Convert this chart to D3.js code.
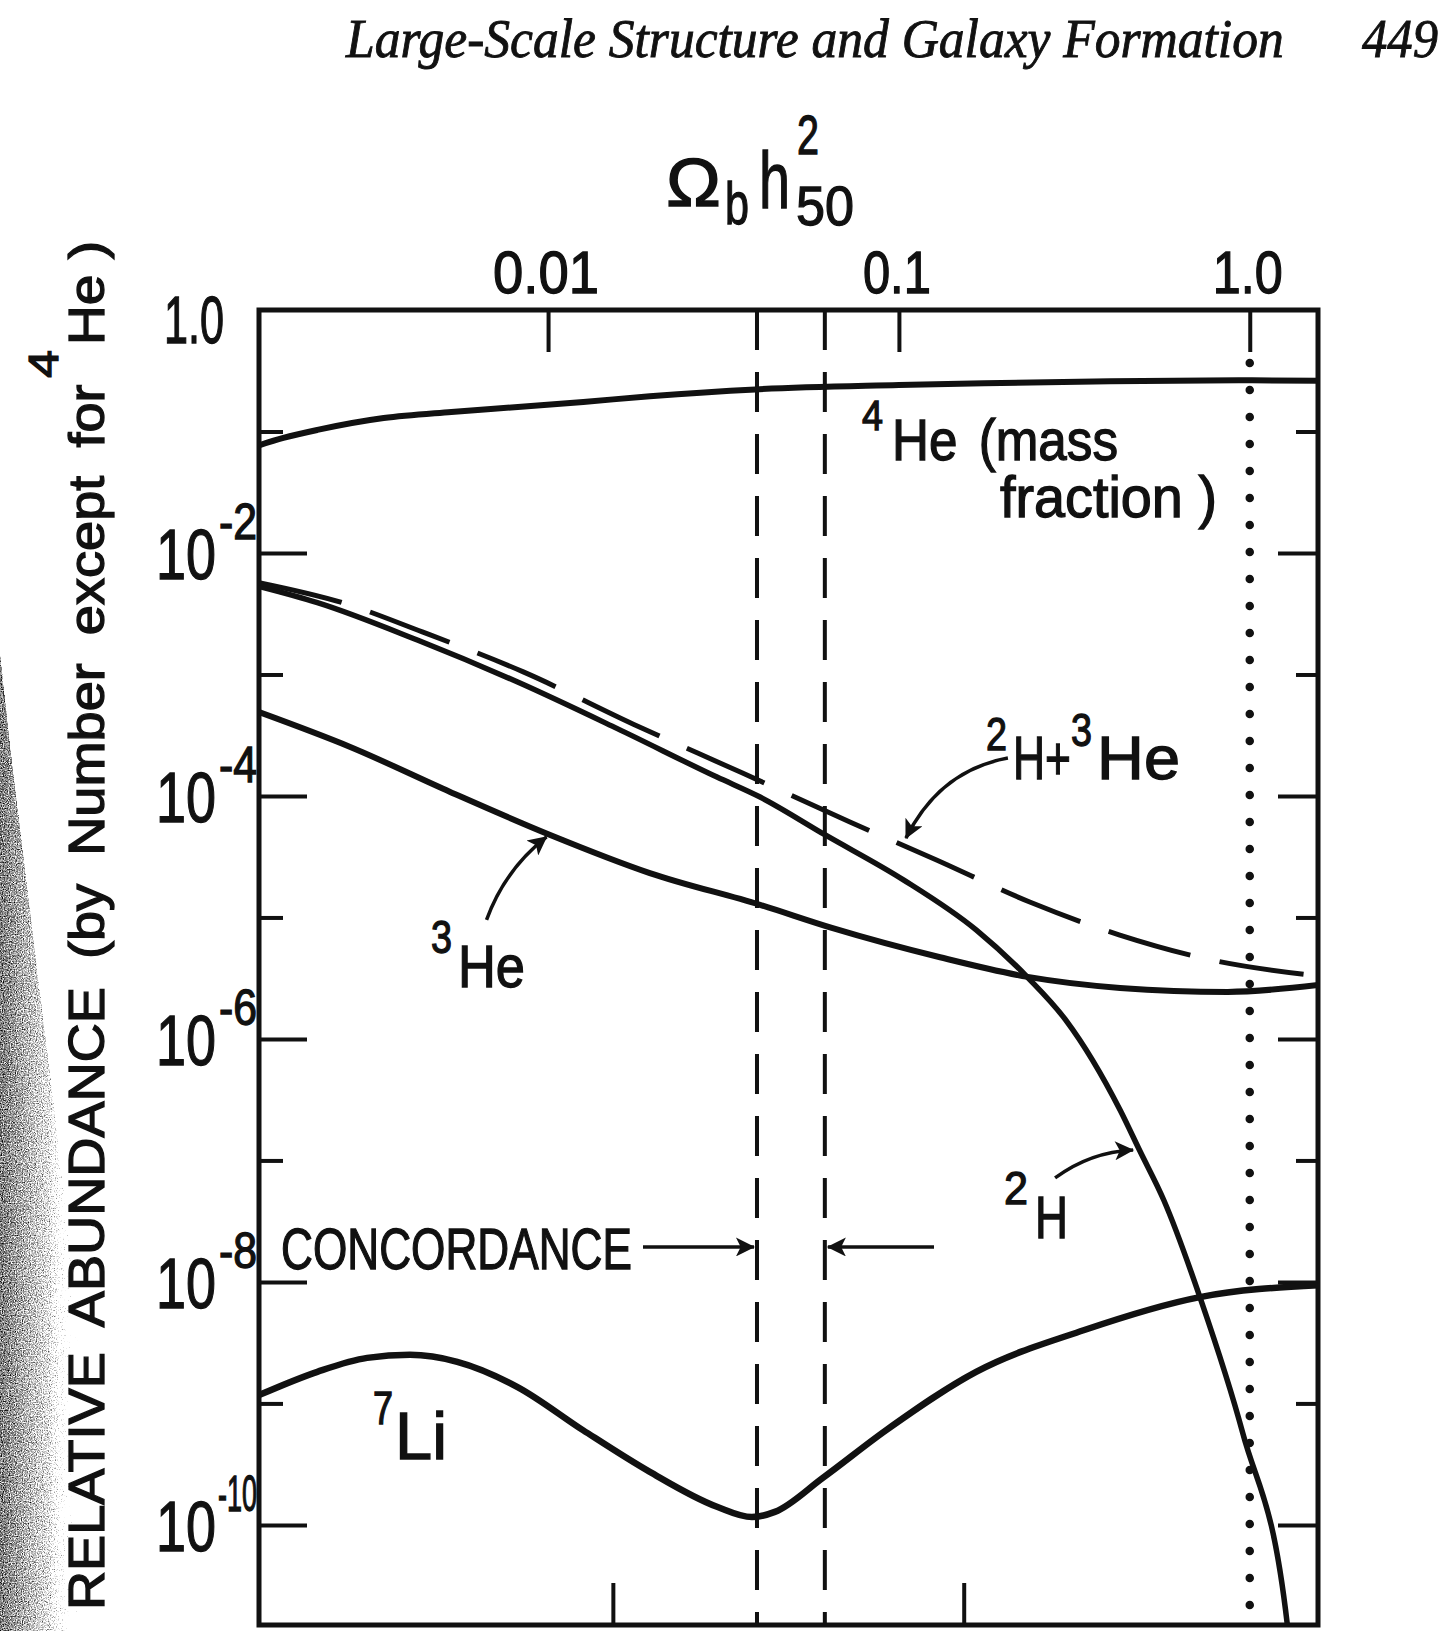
<!DOCTYPE html>
<html>
<head>
<meta charset="utf-8">
<script src="https://cdn.jsdelivr.net/npm/d3@7"></script>
<style>
  html, body { margin: 0; background: #fff; }
  svg { display: block; }
</style>
</head>
<body>
<script>
// ---- Big-bang nucleosynthesis yields vs. baryon density  (x = Omega_b h_50^2) ----
const he4 = [[0.0015,0.077],[0.00176,0.0885],[0.0022,0.103],[0.0034,0.129],[0.0053,0.145],[0.0082,0.159],
             [0.0126,0.175],[0.0195,0.195],[0.039,0.222],[0.10,0.241],[0.175,0.25],[0.40,0.259],[1.0,0.264],[1.565,0.262]];
const deut = [[0.0015,5.3e-3],[0.0022,3.9e-3],[0.00424,1.92e-3],[0.00816,8.7e-4],[0.0157,3.6e-4],[0.0303,1.43e-4],
              [0.0402,9.8e-5],[0.0615,4.8e-5],[0.103,2.04e-5],[0.166,7.9e-6],[0.233,3.2e-6],[0.299,1.43e-6],
              [0.427,2.6e-7],[0.486,1.2e-7],[0.569,4.7e-8],[0.721,7.5e-9],[0.955,5.7e-10],[1.28,1.5e-11],[1.35,2e-12]];
const deutPlusHe3 = [[0.0015,5.7e-3],[0.00259,3.9e-3],[0.00438,2.24e-3],[0.0085,1.05e-3],[0.0175,3.9e-4],[0.0357,1.55e-4],
                     [0.0725,6.1e-5],[0.128,2.97e-5],[0.236,1.34e-5],[0.424,7.2e-6],[0.769,4.5e-6],[1.565,3.3e-6]];
const he3 = [[0.0015,4.9e-4],[0.00273,2.53e-4],[0.00526,1.08e-4],[0.0101,4.8e-5],[0.0195,2.32e-5],[0.0402,1.27e-5],
             [0.0644,8.2e-6],[0.131,4.7e-6],[0.233,3.24e-6],[0.427,2.63e-6],[0.865,2.44e-6],[1.565,2.78e-6]];
const li7 = [[0.0015,1.17e-9],[0.0022,1.82e-9],[0.00305,2.37e-9],[0.00404,2.51e-9],[0.00551,2.2e-9],[0.00816,1.37e-9],
             [0.0126,6.0e-10],[0.0195,2.73e-10],[0.0303,1.41e-10],[0.0381,1.16e-10],[0.0443,1.28e-10],[0.0607,2.44e-10],
             [0.0918,6.0e-10],[0.166,1.82e-9],[0.336,4.0e-9],[0.721,7.5e-9],[1.565,9.4e-9]];

const concordance = [0.0394, 0.0615];      // allowed range (dashed verticals)
const closure = 1.0;                        // Omega_b h_50^2 = 1 (dotted vertical)
const topTicks = [0.01, 0.1, 1.0];
const topTickLabels = ["0.01", "0.1", "1.0"];
const bottomTicks = [0.0153, 0.153];
const yMajor = [1e-2, 1e-4, 1e-6, 1e-8, 1e-10];
const yMajorExp = [2, 4, 6, 8, 10];
const yMinor = [1e-1, 1e-3, 1e-5, 1e-7, 1e-9];

// ---- layout ----
const W = 1455, H = 1631;
const ink = "#111";
const LETTER = "'Liberation Sans', Arial, sans-serif";
const SERIF = "'Liberation Serif', 'DejaVu Serif', serif";
const plot = { left: 259, right: 1318, top: 310, bottom: 1625 };

const x = d3.scaleLog().domain([0.0015, 1.565]).range([plot.left, plot.right]);
const y = d3.scaleLog().domain([1.5e-11, 1]).range([plot.bottom, plot.top]);

const svg = d3.select("body").append("svg").attr("width", W).attr("height", H);
const defs = svg.append("defs");

defs.append("clipPath").attr("id", "plotClip")
  .append("rect").attr("x", plot.left).attr("y", plot.top)
  .attr("width", plot.right - plot.left).attr("height", plot.bottom - plot.top);

defs.append("marker").attr("id", "head")
  .attr("viewBox", "0 0 10 10").attr("refX", 9.5).attr("refY", 5)
  .attr("markerWidth", 30).attr("markerHeight", 19).attr("markerUnits", "userSpaceOnUse")
  .attr("orient", "auto")
  .append("path").attr("d", "M0,0 L10,5 L0,10 L2.5,5 Z").attr("fill", ink);

// shaded gutter at the left page edge (stippled, fading to the right)
const grad = defs.append("linearGradient").attr("id", "gutter").attr("x1", 0).attr("x2", 1).attr("y1", 0).attr("y2", 0);
grad.append("stop").attr("offset", 0).attr("stop-color", "#000").attr("stop-opacity", 0.66);
grad.append("stop").attr("offset", 0.45).attr("stop-color", "#000").attr("stop-opacity", 0.5);
grad.append("stop").attr("offset", 1).attr("stop-color", "#000").attr("stop-opacity", 0);
const st = defs.append("filter").attr("id", "stipple").attr("x", 0).attr("y", 0).attr("width", 1).attr("height", 1);
st.append("feTurbulence").attr("type", "fractalNoise").attr("baseFrequency", 0.85).attr("numOctaves", 2).attr("seed", 7).attr("result", "noise");
st.append("feColorMatrix").attr("in", "noise").attr("type", "luminanceToAlpha").attr("result", "na");
st.append("feComposite").attr("in", "SourceGraphic").attr("in2", "na").attr("operator", "arithmetic")
  .attr("k1", 0).attr("k2", 2.6).attr("k3", -2.4).attr("k4", 0);
svg.append("polygon")
  .attr("points", "0,650 12,760 34,940 56,1120 76,1300 94,1480 106,1631 0,1631")
  .attr("fill", "url(#gutter)").attr("filter", "url(#stipple)");

// text helper: optional horizontal fit to a target width, slight stroke for a pen-lettered weight
function put(parent, o) {
  const g = parent.append("g")
    .attr("transform", `translate(${o.x},${o.y})${o.rotate ? ` rotate(${o.rotate})` : ""}`);
  const t = g.append("text")
    .attr("font-family", o.family || LETTER)
    .attr("font-size", o.size)
    .attr("font-style", o.style || "normal")
    .attr("text-anchor", o.anchor || "start")
    .attr("fill", ink)
    .attr("stroke", ink)
    .attr("stroke-width", o.sw === undefined ? 1.3 : o.sw)
    .text(o.text);
  if (o.wordSpacing) t.attr("word-spacing", o.wordSpacing);
  if (o.width) {
    const w = t.node().getComputedTextLength();
    t.attr("transform", `scale(${o.width / w},1)`);
  }
  return t;
}

// ---- running head ----
put(svg, { x: 346, y: 57, text: "Large-Scale Structure and Galaxy Formation", size: 54,
           family: SERIF, style: "italic", width: 938, sw: 0.9 });
put(svg, { x: 1362, y: 57, text: "449", size: 54, family: SERIF, style: "italic", width: 76, sw: 0.9 });

// ---- frame ----
svg.append("rect")
  .attr("x", plot.left).attr("y", plot.top)
  .attr("width", plot.right - plot.left).attr("height", plot.bottom - plot.top)
  .attr("fill", "none").attr("stroke", ink).attr("stroke-width", 5);

// ---- inward ticks via d3 axes ----
function ticks(axis, tx, ty) {
  const g = svg.append("g").attr("transform", `translate(${tx},${ty})`).call(axis);
  g.select(".domain").remove();
  g.selectAll(".tick line").attr("stroke", ink).attr("stroke-width", 4);
  g.selectAll(".tick text").remove();
  return g;
}
ticks(d3.axisRight(y).tickValues(yMajor).tickSize(48), plot.left, 0);
ticks(d3.axisRight(y).tickValues(yMinor).tickSize(24), plot.left, 0);
ticks(d3.axisLeft(y).tickValues(yMajor).tickSize(40), plot.right, 0);
ticks(d3.axisLeft(y).tickValues(yMinor).tickSize(22), plot.right, 0);
ticks(d3.axisBottom(x).tickValues(topTicks).tickSize(42), 0, plot.top);
ticks(d3.axisTop(x).tickValues(bottomTicks).tickSize(42), 0, plot.bottom);

// ---- tick labels ----
const topWidths = [106, 68, 70];
topTicks.forEach((v, i) => {
  put(svg, { x: x(v) - 2, y: 293, text: topTickLabels[i], size: 60, anchor: "middle", width: topWidths[i] });
});
put(svg, { x: 164, y: y(1) + 33, text: "1.0", size: 66, width: 60 });
yMajor.forEach((v, i) => {
  const e = yMajorExp[i];
  put(svg, { x: 156, y: y(v) + 26, text: "10", size: 70, width: 60 });
  put(svg, { x: 257, y: y(v) - 14, text: "-" + e, size: 50, anchor: "end", width: e >= 10 ? 39 : 38 });
});

// ---- axis titles ----
put(svg, { x: 666, y: 206, text: "Ω", size: 68, width: 55 });
put(svg, { x: 725, y: 224, text: "b", size: 60, width: 24 });
put(svg, { x: 759, y: 208, text: "h", size: 80, width: 31 });
put(svg, { x: 797, y: 154, text: "2", size: 56, width: 22 });
put(svg, { x: 796, y: 225, text: "50", size: 56, width: 58 });

put(svg, { x: 104, y: 1610, rotate: -90, text: "RELATIVE ABUNDANCE (by Number except for",
           size: 50, width: 1226, wordSpacing: 12 });
put(svg, { x: 58, y: 378, rotate: -90, text: "4", size: 42, width: 28 });
put(svg, { x: 104, y: 345, rotate: -90, text: "He )", size: 50, width: 104 });

// ---- reference verticals ----
const vlines = svg.append("g").attr("clip-path", "url(#plotClip)");
vlines.selectAll("line.conc").data(concordance).join("line").attr("class", "conc")
  .attr("x1", d => x(d)).attr("x2", d => x(d))
  .attr("y1", plot.top).attr("y2", plot.bottom)
  .attr("stroke", ink).attr("stroke-width", 4).attr("stroke-dasharray", "40,22");
vlines.append("line")
  .attr("x1", x(closure)).attr("x2", x(closure))
  .attr("y1", plot.top + 53).attr("y2", plot.bottom)
  .attr("stroke", ink).attr("stroke-width", 8.5).attr("stroke-linecap", "round")
  .attr("stroke-dasharray", "0,27");

// ---- abundance curves ----
const line = d3.line().x(d => x(d[0])).y(d => y(d[1])).curve(d3.curveMonotoneX);
const curves = svg.append("g").attr("clip-path", "url(#plotClip)").attr("fill", "none")
  .attr("stroke", ink).attr("stroke-linejoin", "round");
curves.append("path").datum(he4).attr("d", line).attr("stroke-width", 6);
curves.append("path").datum(deut).attr("d", line).attr("stroke-width", 5.5);
curves.append("path").datum(he3).attr("d", line).attr("stroke-width", 6);
curves.append("path").datum(li7).attr("d", line).attr("stroke-width", 6.5);
curves.append("path").datum(deutPlusHe3).attr("d", line).attr("stroke-width", 5)
  .attr("stroke-dasharray", "85,30");

// ---- annotations ----
const ann = svg.append("g").attr("fill", "none").attr("stroke", ink).attr("stroke-width", 3.5);
function curvedArrow(tail, ctrl, tip) {
  ann.append("path")
    .attr("d", `M${tail[0]},${tail[1]} Q${ctrl[0]},${ctrl[1]} ${tip[0]},${tip[1]}`)
    .attr("marker-end", "url(#head)");
}
// tips anchored in data space
const tipHe3 = [x(0.0099), y(4.6e-5)];
const tipSum = [x(0.1047), y(4.5e-5)];
const tipD = [x(0.465), y(1.22e-7)];
curvedArrow([tipHe3[0] - 60, tipHe3[1] + 83], [tipHe3[0] - 42, tipHe3[1] + 33], tipHe3);
curvedArrow([tipSum[0] + 102, tipSum[1] - 80], [tipSum[0] + 34, tipSum[1] - 68], tipSum);
curvedArrow([tipD[0] - 78, tipD[1] + 28], [tipD[0] - 43, tipD[1] + 2], tipD);

const concY = y(1.94e-8);
ann.append("line").attr("x1", 643).attr("x2", x(concordance[0]) - 3)
  .attr("y1", concY).attr("y2", concY).attr("marker-end", "url(#head)");
ann.append("line").attr("x1", 934).attr("x2", x(concordance[1]) + 3)
  .attr("y1", concY).attr("y2", concY).attr("marker-end", "url(#head)");

// labels
put(svg, { x: 281, y: concY + 22, text: "CONCORDANCE", size: 58, width: 351 });

put(svg, { x: 862, y: 430, text: "4", size: 42, width: 21 });
put(svg, { x: 892, y: 460, text: "He (mass", size: 58, width: 226, wordSpacing: 8 });
put(svg, { x: 1000, y: 517, text: "fraction )", size: 58, width: 217 });

put(svg, { x: 986, y: 750, text: "2", size: 46, width: 21 });
put(svg, { x: 1013, y: 779, text: "H+", size: 62, width: 58 });
put(svg, { x: 1071, y: 746, text: "3", size: 46, width: 21 });
put(svg, { x: 1097, y: 779, text: "He", size: 62, width: 83 });

put(svg, { x: 431, y: 953, text: "3", size: 46, width: 21 });
put(svg, { x: 458, y: 987, text: "He", size: 60, width: 67 });

put(svg, { x: 1004, y: 1204, text: "2", size: 46, width: 24 });
put(svg, { x: 1035, y: 1238, text: "H", size: 60, width: 33 });

put(svg, { x: 373, y: 1424, text: "7", size: 46, width: 20 });
put(svg, { x: 395, y: 1459, text: "Li", size: 66, width: 52 });
</script>
</body>
</html>
